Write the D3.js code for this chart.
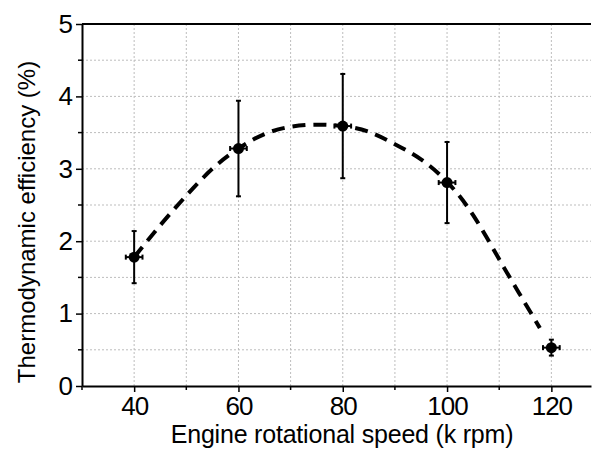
<!DOCTYPE html>
<html>
<head>
<meta charset="utf-8">
<script src="https://cdn.jsdelivr.net/npm/d3@7"></script>
<style>
  body { margin: 0; background: #fff; }
  svg text { font-family: "Liberation Sans", Arial, sans-serif; fill: #000; }
</style>
</head>
<body>
<svg id="chart" width="595" height="450"></svg>
<script>
// measured points
const speed = [40, 60, 80, 100, 120];
const efficiency = [1.78, 3.28, 3.59, 2.81, 0.53];
const effErr = [0.36, 0.66, 0.72, 0.56, 0.11];
const speedErr = [1.6, 1.6, 1.6, 1.6, 1.6];

// dashed fit curve
const fitSpeed = [40, 45, 50, 55, 60, 65, 70, 75, 80, 85, 90, 95, 100, 105, 110, 114, 117.8];
const fitEff = [1.78, 2.22, 2.63, 3.0, 3.28, 3.48, 3.58, 3.61, 3.59, 3.51, 3.34, 3.13, 2.82, 2.36, 1.75, 1.26, 0.8];

const xTicks = [40, 60, 80, 100, 120];
const xMinor = [30, 50, 70, 90, 110];
const xGrid = [40, 50, 60, 70, 80, 90, 100, 110, 120];
const yTicks = [0, 1, 2, 3, 4, 5];
const yMinor = [0.5, 1.5, 2.5, 3.5, 4.5];
const yGrid = [0.5, 1, 1.5, 2, 2.5, 3, 3.5, 4, 4.5];

const svg = d3.select('#chart');

const x = d3.scaleLinear().domain([30, 127.6]).range([82, 591]);
const y = d3.scaleLinear().domain([0, 5]).range([386, 24]);

// ==========================================
// GRID
// ==========================================
svg.append('g')
  .selectAll('line')
  .data(xGrid)
  .enter()
  .append('line')
  .attr('x1', d => x(d)).attr('x2', d => x(d))
  .attr('y1', y(0)).attr('y2', y(5))
  .attr('stroke', '#bdbdbd')
  .attr('stroke-width', 1)
  .attr('stroke-dasharray', '2,2');

svg.append('g')
  .selectAll('line')
  .data(yGrid)
  .enter()
  .append('line')
  .attr('x1', x(30)).attr('x2', x(127.6))
  .attr('y1', d => y(d)).attr('y2', d => y(d))
  .attr('stroke', '#bdbdbd')
  .attr('stroke-width', 1)
  .attr('stroke-dasharray', '2,2');

// ==========================================
// AXES
// ==========================================
const xAxis = svg.append('g')
  .attr('transform', `translate(0,${y(0)})`)
  .call(d3.axisBottom(x).tickValues(xTicks).tickSize(6).tickSizeOuter(0).tickPadding(5));

xAxis.selectAll('.tick line').attr('stroke-width', 1.5);
xAxis.selectAll('text')
  .attr('font-size', 26)
  .style('letter-spacing', '-1px');

xAxis.selectAll('.minor')
  .data(xMinor)
  .enter()
  .append('line')
  .attr('class', 'minor')
  .attr('x1', d => x(d)).attr('x2', d => x(d))
  .attr('y1', 0).attr('y2', 4)
  .attr('stroke', '#000')
  .attr('stroke-width', 1.5);

const yAxis = svg.append('g')
  .attr('transform', `translate(${x(30)},0)`)
  .call(d3.axisLeft(y).tickValues(yTicks).tickFormat(d3.format('d')).tickSize(6).tickSizeOuter(0).tickPadding(3));

yAxis.selectAll('.tick line').attr('stroke-width', 1.5);
yAxis.selectAll('text').attr('font-size', 26);

yAxis.selectAll('.minor')
  .data(yMinor)
  .enter()
  .append('line')
  .attr('class', 'minor')
  .attr('x1', 0).attr('x2', -4)
  .attr('y1', d => y(d)).attr('y2', d => y(d))
  .attr('stroke', '#000')
  .attr('stroke-width', 1.5);

svg.selectAll('.domain').attr('stroke-width', 2);

// top frame line
svg.append('line')
  .attr('x1', x(30)).attr('x2', x(127.6))
  .attr('y1', y(5)).attr('y2', y(5))
  .attr('stroke', '#000')
  .attr('stroke-width', 2);

// axis titles
svg.append('text')
  .attr('x', 342)
  .attr('y', 443)
  .attr('text-anchor', 'middle')
  .attr('font-size', 25)
  .style('letter-spacing', '-0.2px')
  .text('Engine rotational speed (k rpm)');

svg.append('text')
  .attr('transform', 'translate(35,222) rotate(-90)')
  .attr('text-anchor', 'middle')
  .attr('font-size', 24)
  .text('Thermodynamic efficiency (%)');

// ==========================================
// FIT CURVE
// ==========================================
const fitData = fitSpeed.map((s, i) => [s, fitEff[i]]);

svg.append('path')
  .datum(fitData)
  .attr('fill', 'none')
  .attr('stroke', '#000')
  .attr('stroke-width', 4)
  .attr('stroke-dasharray', '13,8')
  .attr('d', d3.line()
    .x(d => x(d[0]))
    .y(d => y(d[1]))
    .curve(d3.curveNatural));

// ==========================================
// POINTS + ERROR BARS
// ==========================================
const points = speed.map((s, i) => ({ s: s, e: efficiency[i], ey: effErr[i], ex: speedErr[i] }));
const cap = 2.5;

const pg = svg.append('g')
  .selectAll('g')
  .data(points)
  .enter()
  .append('g');

// vertical bar
pg.append('line')
  .attr('x1', d => x(d.s)).attr('x2', d => x(d.s))
  .attr('y1', d => y(d.e - d.ey)).attr('y2', d => y(d.e + d.ey))
  .attr('stroke', '#000').attr('stroke-width', 2);

pg.selectAll('.vcap')
  .data(d => [[d.s, d.e - d.ey], [d.s, d.e + d.ey]])
  .enter()
  .append('line')
  .attr('x1', d => x(d[0]) - cap).attr('x2', d => x(d[0]) + cap)
  .attr('y1', d => y(d[1])).attr('y2', d => y(d[1]))
  .attr('stroke', '#000').attr('stroke-width', 2);

// horizontal bar
pg.append('line')
  .attr('x1', d => x(d.s - d.ex)).attr('x2', d => x(d.s + d.ex))
  .attr('y1', d => y(d.e)).attr('y2', d => y(d.e))
  .attr('stroke', '#000').attr('stroke-width', 2);

pg.selectAll('.hcap')
  .data(d => [[d.s - d.ex, d.e], [d.s + d.ex, d.e]])
  .enter()
  .append('line')
  .attr('x1', d => x(d[0])).attr('x2', d => x(d[0]))
  .attr('y1', d => y(d[1]) - cap).attr('y2', d => y(d[1]) + cap)
  .attr('stroke', '#000').attr('stroke-width', 2);

pg.append('circle')
  .attr('cx', d => x(d.s))
  .attr('cy', d => y(d.e))
  .attr('r', 5.5)
  .attr('fill', '#000');
</script>
</body>
</html>
